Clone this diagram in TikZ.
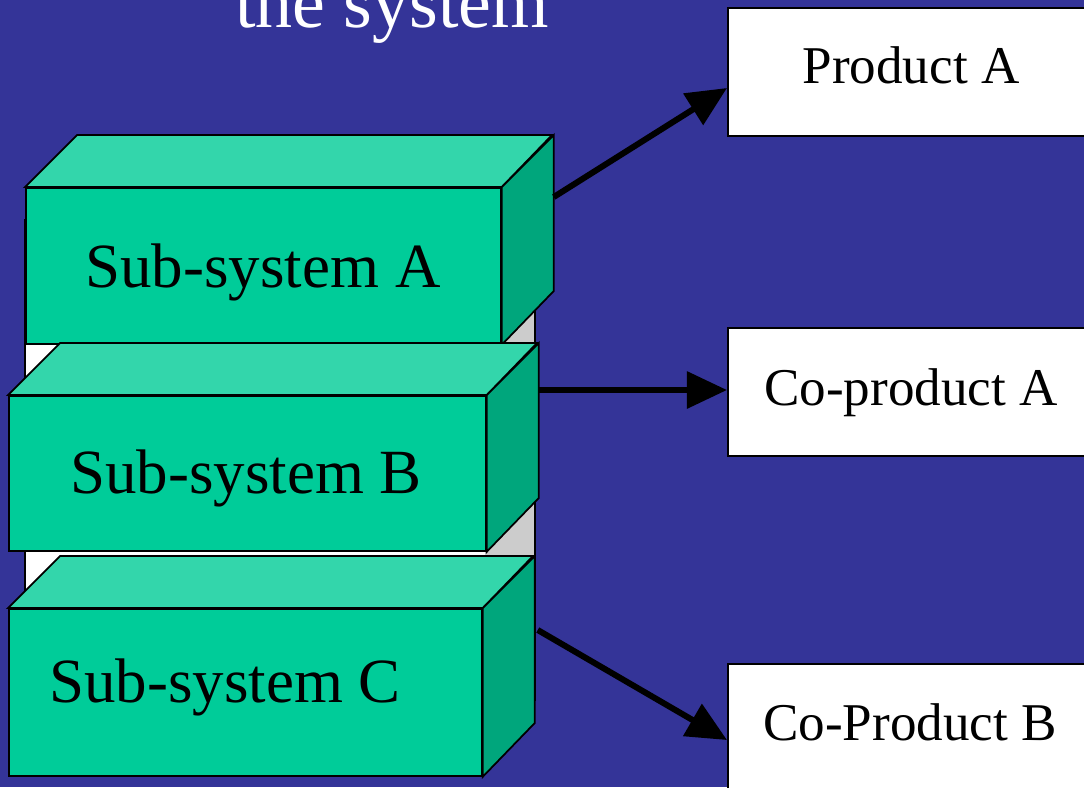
\documentclass[tikz,border=0pt]{standalone}
\usepackage{fontspec}
\setmainfont{Liberation Serif}
\usetikzlibrary{arrows.meta,calc}
\definecolor{slideblue}{RGB}{52,52,152}
\definecolor{boxfront}{RGB}{0,204,153}
\definecolor{boxtop}{RGB}{51,214,171}
\definecolor{boxside}{RGB}{0,166,124}
\definecolor{backgray}{RGB}{204,204,204}
\tikzset{
  front/.style={draw=black, fill=boxfront, line width=0.5pt, inner sep=0pt, anchor=north west},
  outbox/.style={draw=black, fill=white, line width=0.5pt, inner sep=0pt, anchor=north west,
    minimum width=3.8cm, minimum height=1.28cm},
  sublabel/.style={anchor=base, font=\fontsize{17.9}{20}\selectfont},
  outlabel/.style={anchor=base, font=\fontsize{15.1}{18}\selectfont},
  flow/.style={line width=0.06cm, -{Triangle[length=0.4cm, width=0.36cm]}}
}
\begin{document}
\begin{tikzpicture}[x=0.01cm,y=-0.01cm]
\def\depth{52}% depth of the 3d boxes, in px
\useasboundingbox (0,0) rectangle (1084,787);
\clip (0,0) rectangle (1084,787);
\fill[slideblue] (0,0) rectangle (1084,787);
\node[anchor=base, text=white, font=\fontsize{21}{24}\selectfont] (title) at (392,27) {the system};
% box behind the stack
\fill[white] (25,220) rectangle (485,700);
\fill[backgray] (485,220) rectangle (535,700);
\draw[line width=0.5pt] (25,220) rectangle (535,700);
% the three sub-systems
\foreach \n/\x/\y/\w/\h/\tx/\ty in {A/25/187/475/156/263/287,
                                    B/8/395/477/155/246/493,
                                    C/8/608/473/167/225/702} {
  \node[front, minimum width=\w*0.01cm, minimum height=\h*0.01cm] (ss\n) at (\x,\y) {};
  \filldraw[fill=boxtop, line width=0.5pt] (ss\n.north west) -- ++(\depth,-\depth) -- ++(\w,0)
    -- (ss\n.north east) -- cycle;
  \filldraw[fill=boxside, line width=0.5pt] (ss\n.north east) -- ++(\depth,-\depth) -- ++(0,\h)
    -- (ss\n.south east) -- cycle;
  \node[sublabel] (lbl\n) at (\tx,\ty) {Sub-system \n};
}
% products
\node[outbox] (prodA) at (727,7) {};
\node[outbox] (coprodA) at (727,327) {};
\node[outbox] (coprodB) at (727,663) {};
\node[outlabel] (lblprodA) at (911,83) {Product A};
\node[outlabel] (lblcoprodA) at (911,405) {Co-product A};
\node[outlabel] (lblcoprodB) at (910,740) {Co-Product B};
% flows
\draw[flow] ([shift={(52,10)}]ssA.north east) -- ([shift={(0,81)}]prodA.north west);
\draw[flow] ([shift={(52,-5)}]ssB.north east) -- ([shift={(0,63)}]coprodA.north west);
\draw[flow] ([shift={(55,22)}]ssC.north east) -- ([shift={(0,77)}]coprodB.north west);
\end{tikzpicture}
\end{document}
